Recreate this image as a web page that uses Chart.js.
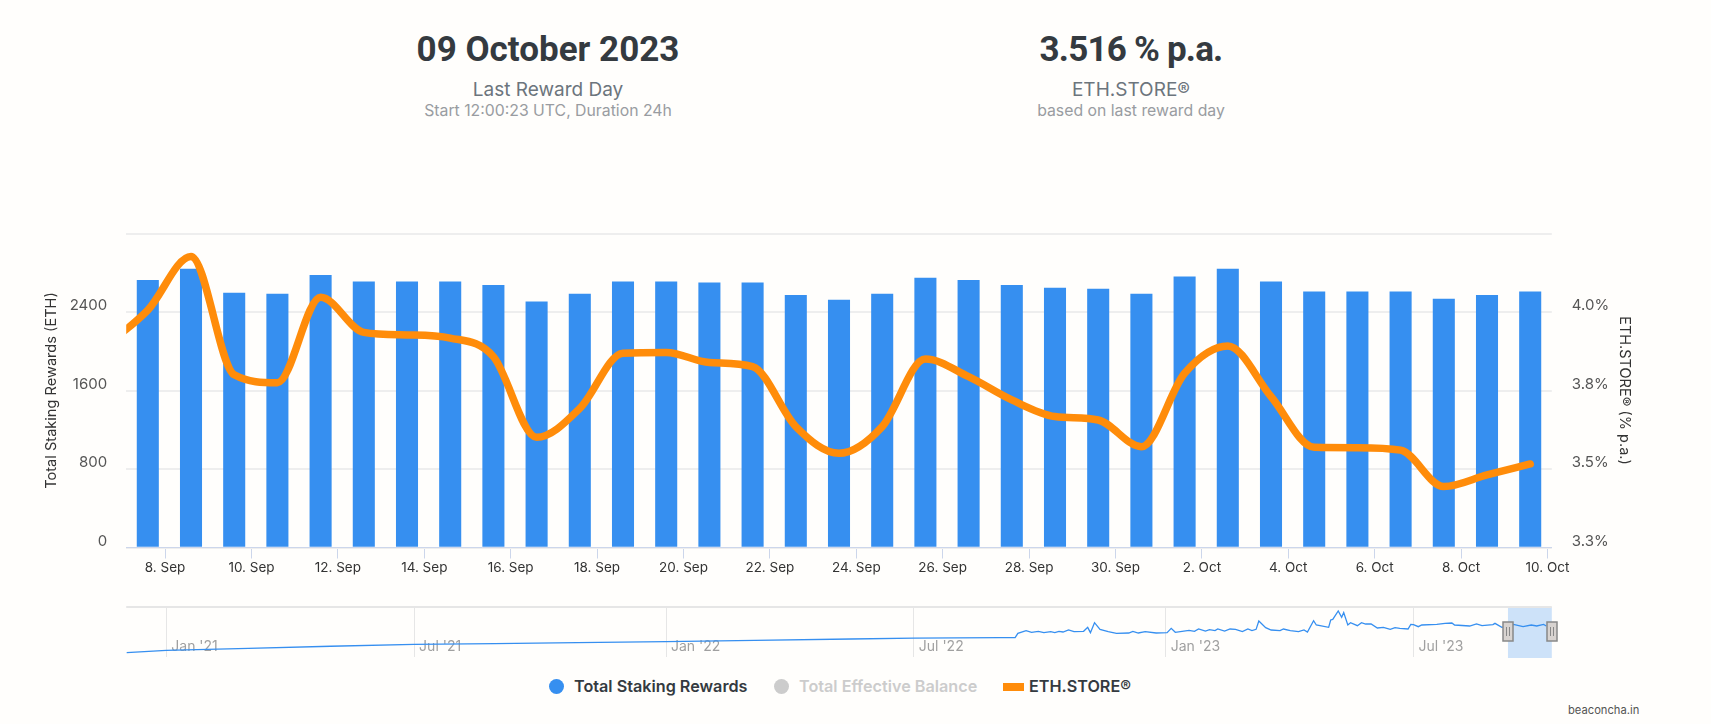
<!DOCTYPE html>
<html>
<head>
<meta charset="utf-8">
<title>ETH.STORE</title>
<script src="https://cdn.jsdelivr.net/npm/chart.js@4/dist/chart.umd.min.js"></script>
<style>
  html, body { margin: 0; padding: 0; background: #fffefc; }
  body { width: 1711px; height: 724px; position: relative; overflow: hidden; font-family: Inter, sans-serif; }
  canvas { position: absolute; left: 0; }
  .stat { position: absolute; top: 0; width: 500px; text-align: center; }
  .stat div { position: absolute; left: 0; right: 0; white-space: nowrap; }
  .big { top: 29px; font: 700 35px Roboto, sans-serif; color: #343a40; }
  .mid { top: 78px; font-size: 19px; color: #6c757d; }
  .small { top: 101px; font-size: 15.8px; color: #999ca1; }
  .leg { position: absolute; top: 676px; font-size: 16.2px; font-weight: 600; color: #343a40; white-space: nowrap; }
  .dot { position: absolute; width: 15px; height: 15px; border-radius: 50%; top: 679px; }
  #credit { position: absolute; left: 1568px; top: 703px; font-size: 11.2px; color: #555; }
</style>
</head>
<body>
<div class="stat" style="left:298px">
  <div class="big">09 October 2023</div>
  <div class="mid">Last Reward Day</div>
  <div class="small">Start 12:00:23 UTC, Duration 24h</div>
</div>
<div class="stat" style="left:881px">
  <div class="big" style="letter-spacing:-0.8px">3.516 % p.a.</div>
  <div class="mid">ETH.STORE®</div>
  <div class="small">based on last reward day</div>
</div>

<canvas id="main" width="1711" height="390" style="top:200px"></canvas>
<canvas id="nav" width="1711" height="60" style="top:605px"></canvas>

<span class="dot" style="left:549px;background:#368ff0"></span>
<span class="leg" style="left:574px">Total Staking Rewards</span>
<span class="dot" style="left:774px;background:#cccccc"></span>
<span class="leg" style="left:799px;color:#cccccc">Total Effective Balance</span>
<span style="position:absolute;left:1003px;top:683px;width:21px;height:8px;background:#ff8c0a"></span>
<span class="leg" style="left:1029px">ETH.STORE®</span>
<div id="credit">beaconcha.in</div>

<script>
// Reward days
var days = ['2023-09-07','2023-09-08','2023-09-09','2023-09-10','2023-09-11','2023-09-12','2023-09-13','2023-09-14','2023-09-15','2023-09-16','2023-09-17',
  '2023-09-18','2023-09-19','2023-09-20','2023-09-21','2023-09-22','2023-09-23','2023-09-24','2023-09-25','2023-09-26','2023-09-27','2023-09-28','2023-09-29',
  '2023-09-30','2023-10-01','2023-10-02','2023-10-03','2023-10-04','2023-10-05','2023-10-06','2023-10-07','2023-10-08','2023-10-09'];
var rewards = [2722,2837,2592,2582,2773,2708,2708,2708,2671,2504,2582,2708,2708,2698,2698,2569,2521,2582,
  2745,2722,2671,2643,2633,2582,2759,2837,2708,2606,2606,2606,2531,2569,2606];
// the line has one more point left of the visible range
var storeDays = ['2023-09-06'].concat(days);
var storeValues = [3.89,4.006,4.177,3.80,3.775,4.047,3.935,3.927,3.917,3.858,3.601,3.693,3.869,3.871,3.839,3.826,3.635,3.55,
  3.635,3.850,3.794,3.72,3.667,3.656,3.571,3.805,3.892,3.731,3.569,3.568,3.56,3.444,3.481,3.516];

var xTickDays = ['2023-09-08','2023-09-10','2023-09-12','2023-09-14','2023-09-16','2023-09-18','2023-09-20','2023-09-22','2023-09-24','2023-09-26','2023-09-28','2023-09-30',
  '2023-10-02','2023-10-04','2023-10-06','2023-10-08','2023-10-10'];
var xTickLabels = ['8. Sep','10. Sep','12. Sep','14. Sep','16. Sep','18. Sep','20. Sep','22. Sep','24. Sep','26. Sep','28. Sep','30. Sep',
  '2. Oct','4. Oct','6. Oct','8. Oct','10. Oct'];

// Navigator: days since 1 Jan 2021 and rewards
var navDays = [-29,0,60,120,181,240,300,365,430,500,546,609,620,622,628,632,637,641,646,649,652,655,659,663,670,673,675,678,682,688,694,703,706,710,715,723,731,734,737,747,751,754,759,762,766,768,773,777,781,786,790,793,796,798,803,807,
  813.5,816,821,827,831,833.5,838,840,849,850.5,852,856,858.5,860,863,865,870,873,876,880,884.6,889,894,897.5,901,907,909,911,914.5,917,928,934,939,941,952,957,961,969,970.5,975.5,984,991,997,1001,1006,1008];
var navValues = [350,540,700,870,1030,1090,1170,1240,1340,1460,1530,1566,1566,1917,2133,1998,2079,1971,2052,1971,2079,2025,2187,2052,2079,2403,1971,2781,2241,2052,1917,1944,2079,1944,2052,1944,1971,2322,1998,2160,2079,2268,2106,2214,2133,2268,2106,2268,2241,2052,2268,2133,2241,2916,2376,2187,
  2133,2268,2133,2052,2187,2025,2943,2592,2403,2997,3051,3726,3213,3591,2592,2781,2538,2781,2673,2673,2349,2403,2241,2376,2322,2268,2646,2619,2457,2592,2646,2727,2754,2592,2511,2673,2538,2619,2727,2403,2646,2457,2592,2511,2646,2511];
var navTickDays = [0,181,365,546,730,911];
var navTickLabels = ["Jan '21","Jul '21","Jan '22","Jul '22","Jan '23","Jul '23"];
var navRange = [980,1012];

var HOUR = 3600000;
function stamp(d) { return Date.parse(d + 'T00:00:00Z'); }
function rewardX(d) { return stamp(d) + 14.4 * HOUR; }

var tickFont = { family: 'Inter', size: 15 };

new Chart(document.getElementById('main').getContext('2d'), {
  type: 'bar',
  data: {
    datasets: [{
      type: 'line',
      label: 'ETH.STORE®',
      yAxisID: 'yStore',
      data: storeDays.map(function (d, i) { return { x: rewardX(d), y: storeValues[i] }; }),
      borderColor: '#ff8c0a',
      borderWidth: 7.5,
      borderCapStyle: 'round',
      cubicInterpolationMode: 'monotone',
      pointRadius: 0,
      clip: 0,
      order: 0
    }, {
      label: 'Total Staking Rewards',
      yAxisID: 'yRewards',
      data: days.map(function (d, i) { return { x: rewardX(d), y: rewards[i] }; }),
      backgroundColor: '#368ff0',
      barThickness: 21.4,
      order: 1
    }]
  },
  options: {
    responsive: false,
    animation: false,
    layout: { padding: { left: 43.2, right: 78.2, top: 33.5, bottom: 0 } },
    plugins: { legend: { display: false }, tooltip: { enabled: false } },
    events: [],
    scales: {
      x: {
        type: 'linear',
        offset: false,
        min: stamp('2023-09-07') + 2.4 * HOUR,
        max: stamp('2023-10-10') + 2.4 * HOUR,
        afterBuildTicks: function (s) { s.ticks = xTickDays.map(function (d) { return { value: stamp(d) }; }); },
        afterFit: function (s) { s.height = 42.5; },
        grid: { offset: false, drawOnChartArea: false, drawTicks: true, tickLength: 11, color: '#ccd6eb' },
        border: { color: '#ccd6eb', width: 1 },
        ticks: {
          autoSkip: false, maxRotation: 0, padding: 1,
          font: { family: 'Inter', size: 13.5 }, color: '#333',
          callback: function (v, i) { return xTickLabels[i]; }
        }
      },
      yRewards: {
        position: 'left',
        min: 0, max: 3200,
        afterBuildTicks: function (s) { s.ticks = [0, 800, 1600, 2400, 3200].map(function (v) { return { value: v }; }); },
        afterFit: function (s) { s.width = 83; },
        grid: { color: '#eeeeee', lineWidth: 2, drawTicks: false },
        border: { display: false },
        title: { display: true, text: 'Total Staking Rewards (ETH)', font: { family: 'Inter', size: 14.6 }, color: '#333', padding: 0 },
        ticks: {
          padding: 19, labelOffset: -6.5, font: tickFont, color: '#555',
          callback: function (v) { return v === 3200 ? '' : String(v); }
        }
      },
      yStore: {
        position: 'right',
        min: 3.25, max: 4.25,
        afterBuildTicks: function (s) { s.ticks = [3.25, 3.5, 3.75, 4, 4.25].map(function (v) { return { value: v }; }); },
        afterFit: function (s) { s.width = 81; },
        grid: { drawOnChartArea: false, drawTicks: false },
        border: { display: false },
        title: { display: true, text: 'ETH.STORE® (% p.a.)', font: { family: 'Inter', size: 14.5 }, color: '#333', padding: 0 },
        ticks: {
          padding: 20, labelOffset: -6.5, font: tickFont, color: '#555',
          callback: function (v) { return v === 4.25 ? '' : v.toFixed(1) + '%'; }
        }
      }
    }
  }
});

// range mask under the line, handles and top border over it
var navDecor = {
  id: 'navDecor',
  beforeDatasetsDraw: function (chart) {
    var a = chart.chartArea, x = chart.scales.x, c = chart.ctx;
    var l = x.getPixelForValue(navRange[0]), r = x.getPixelForValue(navRange[1]);
    c.save();
    c.fillStyle = 'rgba(54,143,240,0.25)';
    c.fillRect(l, a.top, r - l, a.bottom - a.top + 1);
    c.fillStyle = '#e6e6e6';
    c.fillRect(a.left, a.top - 1, a.right - a.left, 2);
    c.restore();
  },
  afterDatasetsDraw: function (chart) {
    var a = chart.chartArea, x = chart.scales.x, c = chart.ctx;
    c.save();
    navRange.forEach(function (v) {
      var p = Math.round(x.getPixelForValue(v)), t = a.top + 15;
      c.fillStyle = '#d8d3d0';
      c.strokeStyle = '#888888';
      c.lineWidth = 1.5;
      c.fillRect(p - 5, t, 10, 19);
      c.strokeRect(p - 5, t, 10, 19);
      c.beginPath();
      c.moveTo(p - 1.5, t + 5); c.lineTo(p - 1.5, t + 14);
      c.moveTo(p + 1.5, t + 5); c.lineTo(p + 1.5, t + 14);
      c.lineWidth = 1;
      c.stroke();
    });
    c.restore();
  }
};

new Chart(document.getElementById('nav').getContext('2d'), {
  type: 'line',
  data: {
    datasets: [{
      data: navDays.map(function (d, i) { return { x: d, y: navValues[i] }; }),
      borderColor: '#368ff0',
      borderWidth: 1.3,
      pointRadius: 0,
      tension: 0
    }]
  },
  options: {
    responsive: false,
    animation: false,
    events: [],
    layout: { padding: { left: 126.2, right: 159.2, top: 2, bottom: 8 } },
    plugins: { legend: { display: false }, tooltip: { enabled: false } },
    scales: {
      x: {
        type: 'linear',
        min: -29.3, max: 1012,
        afterBuildTicks: function (s) { s.ticks = navTickDays.map(function (v) { return { value: v }; }); },
        afterFit: function (s) { s.height = 0; },
        grid: { color: '#e6e6e6', lineWidth: 1, drawTicks: false },
        border: { display: false },
        ticks: {
          autoSkip: false, maxRotation: 0, align: 'start', labelOffset: 5, mirror: true, padding: 2,
          font: { family: 'Inter', size: 14 }, color: '#a0a0a0',
          callback: function (v, i) { return navTickLabels[i]; }
        }
      },
      y: { display: false, min: 0, max: 4050 }
    }
  },
  plugins: [navDecor]
});
</script>
</body>
</html>
